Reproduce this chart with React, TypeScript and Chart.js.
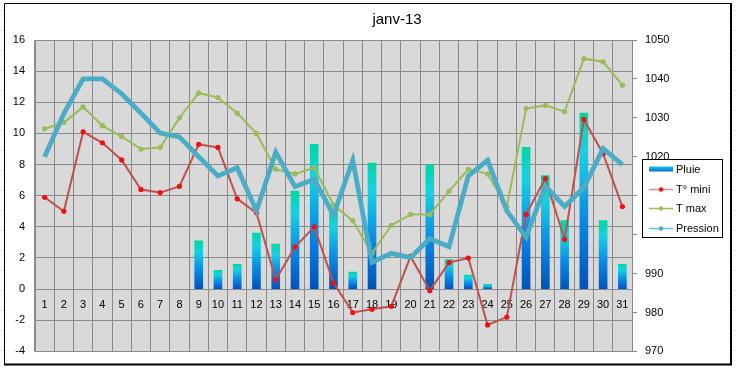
import React, { useEffect, useRef } from "react";
import { Chart, registerables } from "chart.js";

Chart.register(...registerables);

const title = "janv-13";
const days = ["1","2","3","4","5","6","7","8","9","10","11","12","13","14","15","16","17","18","19","20","21","22","23","24","25","26","27","28","29","30","31"];
const pluie = [null,null,null,null,null,null,null,null,3.1,1.2,1.6,3.6,2.9,6.3,9.3,5.1,1.1,8.1,null,null,8.0,1.9,0.9,0.3,null,9.1,7.3,4.4,11.3,4.4,1.6];
const tMini = [5.9,5.0,10.1,9.4,8.3,6.4,6.2,6.6,9.3,9.1,5.8,4.9,0.6,2.7,4.0,0.4,-1.5,-1.3,-1.1,2.1,-0.1,1.7,2.0,-2.3,-1.8,4.8,7.1,3.2,10.9,8.7,5.3];
const tMax = [10.3,10.7,11.7,10.5,9.8,9.0,9.1,11.0,12.6,12.3,11.3,10.0,7.7,7.4,7.8,5.4,4.4,2.3,4.1,4.8,4.8,6.3,7.7,7.4,5.3,11.6,11.8,11.4,14.8,14.6,13.1];
const pression = [1020.0,1031.1,1040.0,1040.0,1036.2,1031.2,1026.1,1025.1,1020.0,1015.1,1017.2,1006.1,1021.2,1012.3,1014.2,1005.0,1019.1,992.9,995.2,994.1,999.0,996.9,1015.1,1019.1,1006.1,999.3,1012.5,1007.2,1012.1,1022.1,1018.0];
const seriesNames = ["Pluie", "T° mini", "T max", "Pression"];

const FONT = "'Liberation Sans', Arial, sans-serif";
const GRID = "#8a8a8a";

function barGradient(ctx: any) {
  const chart = ctx.chart;
  const v = ctx.raw;
  if (!chart.chartArea || v == null || !chart.scales || !chart.scales.y) return "#0a90e0";
  const y = chart.scales.y;
  const top = y.getPixelForValue(v);
  const bot = y.getPixelForValue(0);
  if (!isFinite(top) || !isFinite(bot) || Math.abs(bot - top) < 0.5) return "#0a90e0";
  const g = chart.ctx.createLinearGradient(0, top, 0, bot);
  g.addColorStop(0, "#00d6a2");
  g.addColorStop(0.22, "#18d2e2");
  g.addColorStop(0.6, "#0a8ae6");
  g.addColorStop(1, "#0052b8");
  return g;
}

const framePlugin = {
  id: "frame",
  beforeDraw(chart: any) {
    const { ctx, chartArea } = chart;
    ctx.save();
    ctx.fillStyle = "#ffffff";
    ctx.fillRect(0, 0, chart.width, chart.height);
    ctx.strokeStyle = "#e2e4e6";
    ctx.lineWidth = 1;
    ctx.beginPath();
    [10.5, 30.5, 50.5, 70.5, 90.5, 110.5, 130.5, 150.5, 170.5, 190.5, 210.5, 230.5, 250.5, 270.5, 290.5, 310.5, 330.5, 350.5].forEach((yy) => {
      ctx.moveTo(0, yy); ctx.lineTo(chart.width, yy);
    });
    ctx.stroke();
    ctx.fillStyle = "#ffffff";
    ctx.fillRect(4, 3, 728, 362);
    ctx.strokeStyle = "#000000";
    ctx.lineWidth = 1;
    ctx.beginPath();
    ctx.moveTo(4.5, 365); ctx.lineTo(4.5, 3.5); ctx.lineTo(731, 3.5);
    ctx.stroke();
    ctx.lineWidth = 2;
    ctx.beginPath();
    ctx.moveTo(731, 3); ctx.lineTo(731, 364.5); ctx.lineTo(4, 364.5);
    ctx.stroke();
    ctx.fillStyle = "#d9d9d9";
    ctx.fillRect(chartArea.left, chartArea.top, chartArea.right - chartArea.left, chartArea.bottom - chartArea.top);
    ctx.fillStyle = "#000000";
    ctx.font = "15px " + FONT;
    ctx.textAlign = "center";
    ctx.textBaseline = "middle";
    ctx.fillText(title, 397, 20);
    ctx.restore();
  },
};

const legendPlugin = {
  id: "customLegend",
  afterDraw(chart: any) {
    const { ctx } = chart;
    const x0 = 642, y0 = 159, w = 80, h = 78;
    ctx.save();
    ctx.fillStyle = "#ffffff";
    ctx.fillRect(x0, y0, w, h);
    ctx.strokeStyle = "#000000";
    ctx.lineWidth = 1;
    ctx.strokeRect(x0 + 0.5, y0 + 0.5, w, h);
    ctx.font = "11px " + FONT;
    ctx.textBaseline = "middle";
    ctx.textAlign = "left";
    const ys = [169, 189, 208, 228];
    const ds = chart.data.datasets;
    ys.forEach((yy, i) => {
      const d = ds[i];
      if (i === 0) {
        const g = ctx.createLinearGradient(0, yy - 2.5, 0, yy + 2.5);
        g.addColorStop(0, "#18c8e8");
        g.addColorStop(1, "#0a6ad0");
        ctx.fillStyle = g;
        ctx.fillRect(649, yy - 2.5, 24, 5);
      } else {
        ctx.strokeStyle = d.legendLine;
        ctx.lineWidth = 1.5;
        ctx.beginPath();
        ctx.moveTo(649, yy + 0.5); ctx.lineTo(673, yy + 0.5);
        ctx.stroke();
        ctx.fillStyle = d.pointBackgroundColor;
        ctx.beginPath();
        ctx.arc(661, yy + 0.5, 2.2, 0, Math.PI * 2);
        ctx.fill();
      }
      ctx.fillStyle = "#000000";
      ctx.fillText(d.label, 676, yy + 0.5);
    });
    ctx.restore();
  },
};

export default function App() {
  const ref = useRef<HTMLCanvasElement | null>(null);
  useEffect(() => {
    document.body.style.margin = "0";
    const canvas = ref.current;
    if (!canvas) return;
    const chart = new Chart(canvas, {
      type: "bar",
      data: {
        labels: days,
        datasets: [
          {
            type: "bar",
            label: seriesNames[0],
            data: pluie as any,
            yAxisID: "y",
            backgroundColor: barGradient as any,
            barThickness: 8,
            order: 3,
          } as any,
          {
            type: "line",
            label: seriesNames[1],
            data: tMini,
            yAxisID: "y",
            borderColor: "#c0504d",
            legendLine: "#e09090",
            borderWidth: 2,
            pointRadius: 2.6,
            pointBackgroundColor: "#ee1111",
            pointBorderWidth: 0,
            tension: 0,
            order: 2,
          },
          {
            type: "line",
            label: seriesNames[2],
            data: tMax,
            yAxisID: "y",
            borderColor: "#9bbb59",
            legendLine: "#9bbb59",
            borderWidth: 2,
            pointRadius: 2.6,
            pointBackgroundColor: "#9bbb59",
            pointBorderWidth: 0,
            tension: 0,
            order: 1,
          },
          {
            type: "line",
            label: seriesNames[3],
            data: pression,
            yAxisID: "y1",
            borderColor: "#4bacc6",
            legendLine: "#6cc0d8",
            borderWidth: 4.8,
            pointRadius: 0,
            pointBackgroundColor: "#4bacc6",
            tension: 0,
            order: 0,
          },
        ] as any,
      },
      options: {
        animation: false,
        responsive: false,
        maintainAspectRatio: false,
        layout: { padding: { top: 40, bottom: 16, left: 0, right: 0 } },
        plugins: {
          legend: { display: false },
          title: { display: false },
          tooltip: { enabled: false },
        },
        scales: {
          x: {
            type: "category",
            position: { y: 0 } as any,
            offset: true,
            grid: { color: GRID, offset: true, drawTicks: false, lineWidth: 1 },
            border: { color: GRID },
            ticks: { color: "#000", font: { size: 11, family: FONT }, padding: 9, maxRotation: 0, autoSkip: false },
          },
          y: {
            type: "linear",
            position: "left",
            min: -4,
            max: 16,
            ticks: { stepSize: 2, color: "#000", font: { size: 11, family: FONT }, padding: 10, callback: (v: any) => String(v) },
            grid: { color: GRID, drawTicks: false },
            border: { color: GRID },
            afterFit: (s: any) => { s.width = 35; },
          },
          y1: {
            type: "linear",
            position: "right",
            min: 970,
            max: 1050,
            ticks: { stepSize: 10, color: "#000", font: { size: 11, family: FONT }, padding: 8, callback: (v: any) => String(v) },
            grid: { drawOnChartArea: false, color: GRID, tickLength: 5 },
            border: { color: GRID },
            afterFit: (s: any) => { s.width = 104; },
          },
        },
      } as any,
      plugins: [framePlugin, legendPlugin],
    });
    return () => chart.destroy();
  }, []);
  return (
    <div style={{ width: 736, height: 368 }}>
      <canvas ref={ref} width={736} height={368} style={{ display: "block" }} />
    </div>
  );
}
